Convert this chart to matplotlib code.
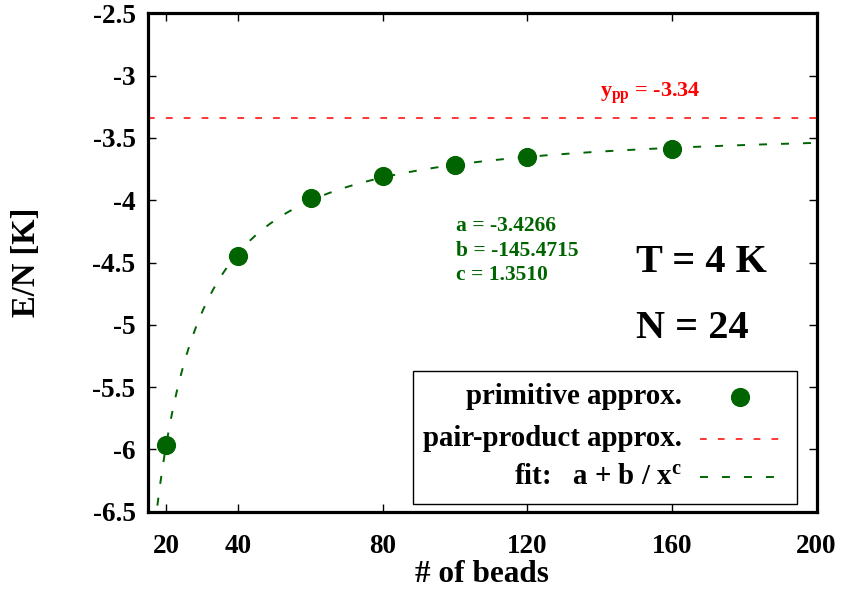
import numpy as np
import matplotlib
matplotlib.use("Agg")
import matplotlib.pyplot as plt
from matplotlib.patches import Rectangle

plt.rcParams['font.family'] = ['Liberation Serif', 'DejaVu Serif']
plt.rcParams['font.weight'] = 'bold'
plt.rcParams['axes.labelweight'] = 'bold'
plt.rcParams['mathtext.fontset'] = 'custom'
plt.rcParams['mathtext.rm'] = 'Liberation Serif:bold'
plt.rcParams['mathtext.it'] = 'Liberation Serif:bold'
plt.rcParams['mathtext.bf'] = 'Liberation Serif:bold'

# data
beads = [20, 40, 60, 80, 100, 120, 160]
energy = [-5.965, -4.448, -3.980, -3.803, -3.718, -3.656, -3.592]
y_pp = -3.34
fit_a, fit_b, fit_c = -3.4266, -145.4715, 1.3510
xticks = [20, 40, 80, 120, 160, 200]
yticks = [-2.5, -3, -3.5, -4, -4.5, -5, -5.5, -6, -6.5]

green = '#006400'

fig = plt.figure(figsize=(8.43, 5.92), dpi=100)
ax = fig.add_axes([148 / 843, 1 - 511.7 / 592, (816.5 - 148) / 843, (511.7 - 13.3) / 592])

# fit curve from the stated parameters
xs = np.linspace(15, 200, 400)
ax.plot(xs, fit_a + fit_b / xs ** fit_c, color=green, lw=1.4, dashes=(4.1, 7.2), zorder=2)
ax.axhline(y_pp, color='red', lw=1.1, dashes=(4.4, 7.3), zorder=2)
ax.plot(beads, energy, 'o', color=green, ms=12.8, zorder=3)

ax.set_xlim(15, 200)
ax.set_ylim(-6.5, -2.5)
ax.set_xticks(xticks)
ax.set_yticks(yticks)
ax.set_yticklabels([('%g' % v) for v in yticks])
ax.tick_params(direction='in', length=6, width=1.0, top=True, right=True,
               labelsize=19.5, pad=9)
ax.tick_params(axis='x', pad=16)
for s in ax.spines.values():
    s.set_linewidth(2.3)


def fx(px):
    return (px - 148) / 668.5


def fy(py):
    return (511.7 - py) / 498.4


ax.set_xlabel('# of beads', fontsize=22.5, va='center', ha='center')
ax.set_ylabel('E/N [K]', fontsize=23.5, va='center', ha='center')
ax.xaxis.set_label_coords(fx(482), fy(575))
ax.yaxis.set_label_coords(fx(26.5), fy(262.5))

# annotations
ax.text(fx(600), fy(93), r'$y_{pp}$ = -3.34', color='red', fontsize=16,
        transform=ax.transAxes, va='center', ha='left')
for i, t in enumerate(['a = -3.4266', 'b = -145.4715', 'c = 1.3510']):
    ax.text(fx(456), fy(226 + 24.5 * i), t,
            transform=ax.transAxes, color=green, fontsize=15.5, va='center', ha='left')
ax.text(fx(636), fy(262), 'T = 4 K', transform=ax.transAxes,
        fontsize=29, va='center', ha='left')
ax.text(fx(636), fy(328), 'N = 24', transform=ax.transAxes,
        fontsize=29, va='center', ha='left')

# legend box drawn by hand, text right aligned like gnuplot
ax.add_patch(Rectangle((fx(412.7), fy(504)), fx(796.7) - fx(412.7), fy(370.7) - fy(504),
                       transform=ax.transAxes, fill=True, facecolor='white',
                       edgecolor='black', lw=1.0, zorder=4))
rows = [396.7, 438.5, 477]
labels = ['primitive approx.', 'pair-product approx.', r'fit:   a + b / x$^{c}$']
for py, lab in zip(rows, labels):
    ax.text(fx(681.7), fy(py), lab, transform=ax.transAxes, fontsize=20.8,
            ha='right', va='center', zorder=5)
ax.plot([fx(740)], [fy(rows[0])], 'o', color=green, ms=12.8, transform=ax.transAxes,
        clip_on=False, zorder=5)
ax.plot([fx(700), fx(780)], [fy(rows[1])] * 2, color='red', lw=1.1, dashes=(4.4, 7.3),
        transform=ax.transAxes, clip_on=False, zorder=5)
ax.plot([fx(700), fx(778)], [fy(rows[2])] * 2, color=green, lw=1.4, dashes=(4.1, 7.2),
        transform=ax.transAxes, clip_on=False, zorder=5)

fig.savefig('out.png', dpi=100)
